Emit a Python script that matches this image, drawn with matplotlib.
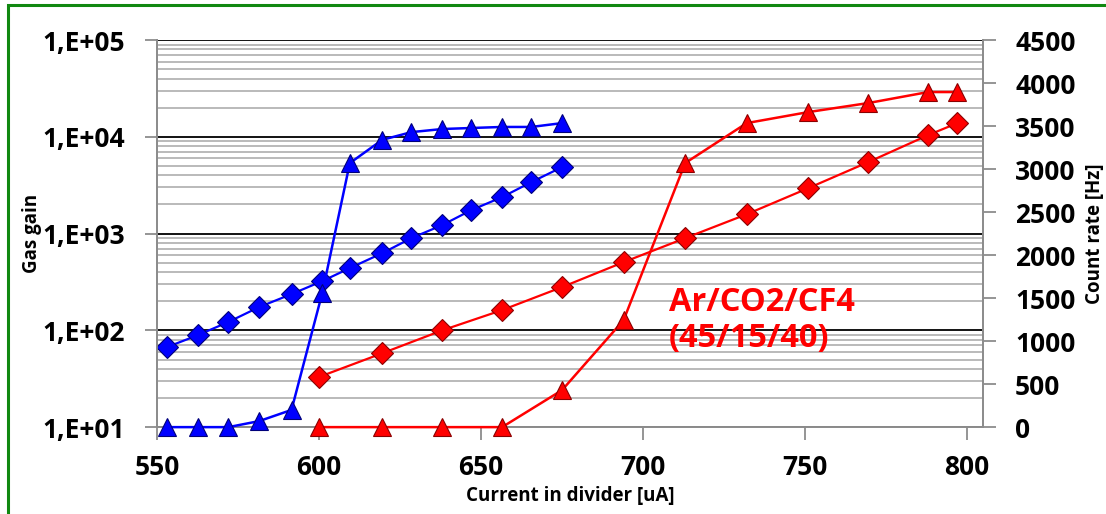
#!/usr/bin/env python3
'''
    Gas gain and count rate vs divider current, two gas mixtures.
'''
import matplotlib
matplotlib.use("Agg")
import matplotlib.pyplot as plt
from matplotlib.patches import Rectangle
from matplotlib.ticker import FixedLocator, LogLocator, NullFormatter

plt.rcParams['font.family'] = ['Open Sans', 'DejaVu Sans']

# blue mixture
blue_x = [553, 562.5, 572, 581.5, 591.5, 601, 609.5, 619.5, 628.5, 638, 647, 656.5, 665.5, 675]
blue_gain = [67, 89, 122, 174, 237, 323, 440, 628, 898, 1224, 1749, 2384, 3404, 4864]
blue_rate = [0, 0, 0, 70, 200, 1560, 3070, 3340, 3430, 3466, 3478, 3490, 3490, 3535]

# red mixture
red_x = [600, 619.5, 638, 656.5, 675, 694, 713, 732, 751, 769.5, 788, 797]
red_gain = [33, 58, 100, 162, 280, 507, 898, 1585, 2950, 5480, 10420, 13860]
red_rate = [0, 0, 0, 0, 430, 1244, 3070, 3535, 3663, 3768, 3896, 3896]

xticks = [550, 600, 650, 700, 750, 800]
gain_ticks = [1e1, 1e2, 1e3, 1e4, 1e5]
gain_labels = ["1,E+01", "1,E+02", "1,E+03", "1,E+04", "1,E+05"]
rate_ticks = list(range(0, 4501, 500))

BLUE, BLUE_EDGE = "#0000ff", "#00007a"
RED, RED_EDGE = "#ff0000", "#8b0000"
GREY = "#8c8c8c"


def make_chart():
    fig = plt.figure(figsize=(11.06, 5.14), dpi=100)
    ax = fig.add_axes([0.142, 0.169, 0.747, 0.753])
    ax2 = ax.twinx()

    ax.set_yscale("log")
    ax.set_ylim(10, 1e5)
    ax.set_xlim(550, 805)
    ax2.set_ylim(0, 4500)

    # grid: black decades, grey minors
    ax.yaxis.set_minor_locator(LogLocator(base=10, subs=range(2, 10)))
    ax.yaxis.set_minor_formatter(NullFormatter())
    ax.grid(which="major", axis="y", color="black", lw=1.3, zorder=0)
    ax.grid(which="minor", axis="y", color="#b4b4b4", lw=1.3, zorder=0)
    ax.tick_params(which="minor", length=0)

    ax.yaxis.set_major_locator(FixedLocator(gain_ticks))
    ax.set_yticklabels(gain_labels)
    ax.set_xticks(xticks)
    ax2.set_yticks(rate_ticks)

    for a in (ax, ax2):
        a.spines["top"].set_visible(False)
        for side in ("left", "right", "bottom"):
            a.spines[side].set_color(GREY)
            a.spines[side].set_linewidth(1.3)
        a.tick_params(which="major", direction="out", length=9, width=1.3,
                      color=GREY, labelsize=19, pad=14)
        for lab in a.get_xticklabels() + a.get_yticklabels():
            lab.set_fontweight("bold")
    ax.tick_params(axis="x", pad=10)

    ms = 11
    # gain (left axis): diamonds
    ax.plot(blue_x, blue_gain, "-", color=BLUE, lw=1.6, marker="D", ms=ms,
            mfc=BLUE, mec=BLUE_EDGE, mew=0.8, zorder=3)
    ax.plot(red_x, red_gain, "-", color=RED, lw=1.6, marker="D", ms=ms,
            mfc=RED, mec=RED_EDGE, mew=0.8, zorder=3)
    # count rate (right axis): triangles
    ax2.plot(blue_x, blue_rate, "-", color=BLUE, lw=1.8, marker="^", ms=ms + 2,
             mfc=BLUE, mec=BLUE_EDGE, mew=0.8, zorder=3, clip_on=False)
    ax2.plot(red_x, red_rate, "-", color=RED, lw=1.8, marker="^", ms=ms + 2,
             mfc=RED, mec=RED_EDGE, mew=0.8, zorder=3, clip_on=False)

    ax.set_xlabel("Current in divider [uA]", fontsize=13.5, fontweight="bold", labelpad=4)
    ax.set_ylabel("Gas gain", fontsize=13.5, fontweight="bold", labelpad=0)
    ax2.set_ylabel("Count rate [Hz]", fontsize=13.5, fontweight="bold", labelpad=7)

    ax2.text(708, 1640, "Ar/CO2/CF4\n(45/15/40)", color=RED, fontsize=23.5,
             fontweight="bold", va="top", ha="left", linespacing=1.1)

    fig.patches.append(Rectangle((0.007, -0.1), 1.1, 1.09, transform=fig.transFigure,
                                 fill=False, ec="#118811", lw=2.2))
    fig.savefig("out.png", dpi=100)


if __name__ == "__main__":
    make_chart()
